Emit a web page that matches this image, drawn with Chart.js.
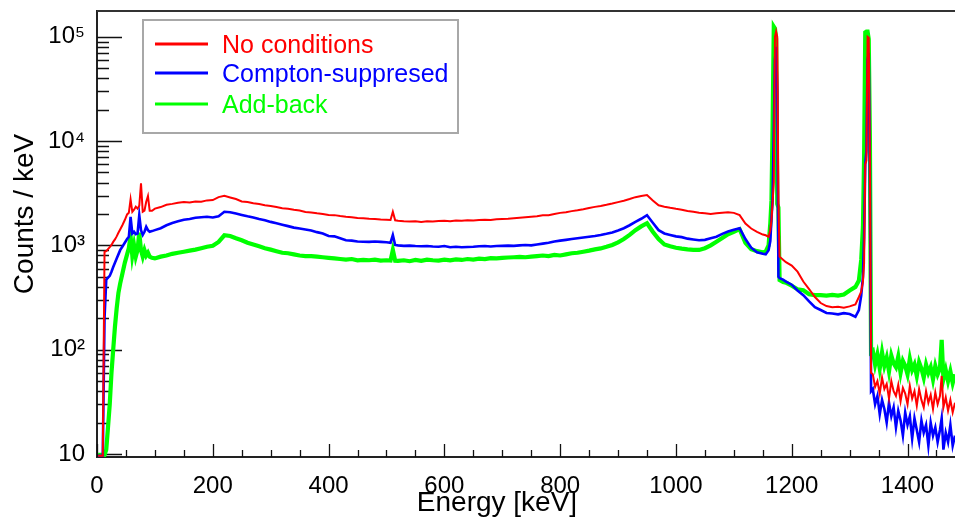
<!DOCTYPE html>
<html>
<head>
<meta charset="utf-8">
<script src="https://cdn.jsdelivr.net/npm/chart.js@4.4.1/dist/chart.umd.min.js"></script>
<style>
  html, body { margin: 0; padding: 0; background: #fff; }
  #wrap { width: 955px; height: 519px; }
</style>
</head>
<body>
<div id="wrap"><canvas id="spectrum"></canvas></div>
<script>
// bin centres [keV] (finer around the lines)
const energy = [
  2, 6, 10, 13, 16, 19, 22, 25, 28, 31, 34, 37, 40, 44, 48, 52, 55, 58, 61, 64, 67, 70, 73, 76, 79, 82, 85, 88, 91, 95, 100,
  110, 120, 130, 140, 150, 160, 170, 180, 190, 200,
  210, 220, 230, 240, 250, 260, 270, 280, 290, 300,
  310, 320, 330, 340, 350, 360, 370, 380, 390, 400,
  410, 420, 430, 440, 450, 460, 470, 480, 490, 500,
  507, 511, 515,
  520, 530, 540, 550, 560, 570, 580, 590, 600, 610,
  620, 630, 640, 650, 660, 670, 680, 690, 700, 710,
  720, 730, 740, 750, 760, 770, 780, 790, 800, 810,
  820, 830, 840, 850, 860, 870, 880, 890, 900, 910,
  920, 930, 940, 950, 960, 970, 980, 990, 1000, 1010,
  1020, 1030, 1040, 1050, 1060, 1070, 1080, 1090, 1100, 1110,
  1120, 1130, 1140, 1150,
  1155, 1160, 1163, 1165, 1167, 1169, 1171, 1173, 1175, 1177, 1179,
  1185, 1190, 1200, 1210, 1220, 1230, 1240, 1250, 1260, 1270, 1280, 1290, 1300, 1310, 1316,
  1320, 1323, 1325, 1327, 1329, 1331, 1333, 1335, 1337,
  1340, 1344, 1348, 1352, 1356, 1360, 1364, 1368, 1372, 1376,
  1380, 1384, 1388, 1392, 1396, 1400, 1404, 1408, 1412, 1416,
  1420, 1424, 1428, 1432, 1436, 1440, 1444, 1448, 1452, 1456,
  1459, 1462, 1466, 1470, 1474, 1478, 1482
];

// counts / keV
const noConditions = [
  9.6, 9.6, 9.6, 870, 880, 920, 960, 1010, 1080, 1140, 1220, 1320, 1420, 1570, 1750, 1980, 2050, 2770, 2100, 2200, 2350, 2250, 2400, 3940, 2100, 2150, 2620, 2970, 2150, 2150, 2250,
  2330, 2450, 2500, 2560, 2600, 2580, 2640, 2620, 2700, 2720,
  2900, 2990, 2880, 2780, 2640, 2600, 2530, 2490, 2430, 2390,
  2330, 2270, 2250, 2200, 2160, 2090, 2070, 2030, 2000, 1960,
  1950, 1910, 1880, 1860, 1830, 1820, 1800, 1790, 1770, 1760,
  1750, 2100, 1740,
  1720, 1700, 1690, 1700, 1680, 1700, 1690, 1710, 1720, 1700,
  1730, 1720, 1740, 1730, 1750, 1760, 1750, 1780, 1790, 1800,
  1820, 1840, 1860, 1880, 1900, 1940, 1950, 2000, 2050, 2080,
  2130, 2170, 2220, 2280, 2340, 2390, 2450, 2520, 2600, 2680,
  2780, 2900, 2980, 3040, 2700, 2420, 2350, 2290, 2240, 2200,
  2140, 2100, 2060, 2030, 2000, 2030, 2060, 2080, 2050, 1950,
  1620, 1450, 1350, 1270,
  1250, 1210, 1400, 1750, 2600, 4000, 100000, 112000, 100000, 2700, 780,
  730, 690, 640, 560, 450, 380, 320, 280, 262, 255, 258, 252, 260, 272, 320,
  360, 450, 680, 6000, 6500, 100000, 98000, 6600, 60,
  58, 44, 50, 38, 54, 42, 47, 34, 50, 40,
  36, 46, 32, 43, 38, 30, 45, 34, 40, 29,
  42, 33, 28, 40, 31, 37, 27, 39, 30, 36,
  56, 28, 35, 26, 33, 25, 31
];

const comptonSuppressed = [
  9.6, 9.6, 9.6, 200, 470, 490, 510, 560, 620, 680, 750, 820, 900, 975, 1060, 1150, 1210, 1880, 1300, 1350, 1280, 1300, 1950, 1400, 1260, 1350, 1510, 1400, 1350, 1370, 1400,
  1460, 1560, 1640, 1700, 1760, 1790, 1840, 1860, 1880, 1850,
  1900, 2100, 2080, 2020, 1960, 1900, 1850, 1790, 1740, 1680,
  1630, 1580, 1530, 1480, 1450, 1420, 1390, 1340, 1300, 1230,
  1220, 1170, 1120, 1110, 1090, 1085, 1080, 1090, 1080, 1070,
  1060, 1255, 1010,
  1000, 990, 995, 985, 980, 985, 975, 970, 985, 960,
  970, 960, 965, 970, 980, 985, 975, 985, 990, 995,
  990, 1000, 1010, 1000, 1020, 1040, 1060, 1090, 1110, 1130,
  1150, 1170, 1190, 1210, 1230, 1255, 1290, 1330, 1390, 1460,
  1560, 1680, 1800, 1950, 1650, 1400, 1300, 1260, 1220, 1200,
  1160, 1140, 1120, 1130, 1170, 1210, 1290, 1360, 1410, 1460,
  1150, 950, 860, 830,
  820, 900, 1100, 1800, 2800, 12600, 60000, 80000, 30000, 500, 485,
  470, 450, 420, 370, 333, 290, 255, 240, 225, 222, 218, 224, 220, 207, 240,
  330, 500, 1200, 6000, 8000, 60000, 70000, 5000, 40,
  42, 30, 36, 24, 33, 27, 20, 31, 23, 28,
  18, 26, 21, 15, 25, 19, 23, 14, 22, 17,
  13, 21, 16, 19, 12, 20, 15, 18, 13, 17,
  22, 11, 16, 13, 19, 12, 15
];

const addBack = [
  9.8, 9.8, 9.8, 9.8, 11, 18, 30, 60, 100, 166, 250, 350, 430, 540, 680, 820, 945, 1230, 800, 1000, 780, 900, 1320, 900, 780, 900, 800, 850, 780, 760, 750,
  780, 800, 830, 850, 870, 890, 910, 940, 970, 990,
  1080, 1250, 1230, 1170, 1120, 1060, 1020, 980, 940, 910,
  880, 850, 840, 820, 800, 790, 790, 780, 770, 760,
  750, 740, 730, 740, 720, 725, 720, 730, 715, 720,
  715, 905, 712,
  710, 720, 705, 725, 710, 730, 720, 715, 730, 720,
  735, 725, 740, 730, 745, 740, 755, 750, 760, 765,
  770, 775, 770, 780, 790, 800, 790, 810, 800, 820,
  840, 850, 870, 890, 915, 935, 970, 1010, 1070, 1150,
  1260, 1400, 1520, 1630, 1350, 1150, 1020, 980, 950, 930,
  915, 905, 905, 940, 1000, 1085, 1180, 1280, 1350, 1430,
  1060, 920, 880, 860,
  870, 1000, 1630, 2700, 15000, 125000, 120000, 95000, 2500, 2300, 465,
  445, 440, 410, 380, 372, 340, 333, 333, 330, 335, 330, 338, 370, 400, 460,
  725, 1510, 7100, 110000, 112000, 112000, 95000, 10700, 95,
  98, 72, 90, 66, 94, 70, 84, 62, 88, 74,
  68, 86, 60, 78, 70, 58, 82, 64, 72, 56,
  76, 66, 54, 72, 60, 68, 52, 70, 58, 66,
  124, 52, 64, 50, 62, 48, 58
];

const xTickValues = [0, 200, 400, 600, 800, 1000, 1200, 1400];
const yTickValues = [10, 100, 1000, 10000, 100000];
const yTickLabels = ['10', '10\u00b2', '10\u00b3', '10\u2074', '10\u2075'];

const seriesNames = ['No conditions', 'Compton-suppresed', 'Add-back'];
const seriesColors = ['#ff0000', '#0000ff', '#00ff00'];
const seriesWidths = [2, 2.6, 4.2];

const FONT = '"Liberation Sans", Arial, Helvetica, sans-serif';

function toPoints(values) {
  return energy.map((e, i) => ({ x: e, y: values[i] }));
}

// ROOT look: inner ticks, top frame line, boxed legend, axis titles
const rootStyle = {
  id: 'rootStyle',
  beforeDatasetsDraw(chart) {
    const { ctx, chartArea: a, scales: { x, y } } = chart;
    ctx.save();
    ctx.strokeStyle = '#111';
    ctx.lineWidth = 1.3;
    ctx.beginPath();
    for (let v = 0; v <= x.max; v += 50) {
      const px = Math.round(x.getPixelForValue(v)) + 0.5;
      ctx.moveTo(px, a.bottom);
      ctx.lineTo(px, a.bottom - (v % 200 === 0 ? 13 : 7));
    }
    for (let d = 1; d <= 5; d++) {
      for (let m = 1; m <= 9; m++) {
        const v = m * Math.pow(10, d);
        if (v < y.min || v > y.max) continue;
        const py = Math.round(y.getPixelForValue(v)) + 0.5;
        ctx.moveTo(a.left, py);
        ctx.lineTo(a.left + (m === 1 ? 25 : 12), py);
      }
    }
    ctx.stroke();
    ctx.restore();
  },
  afterDraw(chart) {
    const { ctx, chartArea: a } = chart;
    ctx.save();

    ctx.strokeStyle = '#333';
    ctx.lineWidth = 2;
    ctx.beginPath();
    ctx.moveTo(a.left, a.top);
    ctx.lineTo(a.right, a.top);
    ctx.stroke();

    // axis titles
    ctx.fillStyle = '#000';
    ctx.font = '28px ' + FONT;
    ctx.textAlign = 'center';
    ctx.textBaseline = 'alphabetic';
    ctx.fillText('Energy [keV]', 497, 511);
    ctx.save();
    ctx.translate(33, 214);
    ctx.rotate(-Math.PI / 2);
    ctx.fillText('Counts / keV', 0, 0);
    ctx.restore();

    // legend box
    ctx.fillStyle = '#fff';
    ctx.fillRect(143, 20, 315, 113);
    ctx.strokeStyle = '#a8a8a8';
    ctx.lineWidth = 2;
    ctx.strokeRect(143, 20, 315, 113);
    const rows = [44, 73, 104];
    ctx.font = '25px ' + FONT;
    ctx.textAlign = 'left';
    seriesNames.forEach((name, i) => {
      ctx.strokeStyle = seriesColors[i];
      ctx.lineWidth = 3;
      ctx.beginPath();
      ctx.moveTo(155, rows[i]);
      ctx.lineTo(208, rows[i]);
      ctx.stroke();
      ctx.fillStyle = seriesColors[i];
      ctx.fillText(name, 222, rows[i] + 8.5);
    });
    ctx.restore();
  }
};

new Chart(document.getElementById('spectrum'), {
  type: 'line',
  data: {
    datasets: seriesNames.map((name, i) => ({
      label: name,
      data: toPoints([noConditions, comptonSuppressed, addBack][i]),
      borderColor: seriesColors[i],
      backgroundColor: seriesColors[i],
      borderWidth: seriesWidths[i],
      borderJoinStyle: 'miter',
      tension: 0,
      pointRadius: 0,
      fill: false
    }))
  },
  options: {
    animation: false,
    responsive: true,
    maintainAspectRatio: false,
    layout: { padding: { top: 11, right: 0, left: 0, bottom: 0 } },
    plugins: {
      legend: { display: false },
      tooltip: { enabled: false }
    },
    scales: {
      x: {
        type: 'linear',
        min: 0,
        max: 1482,
        afterBuildTicks: (s) => { s.ticks = xTickValues.map(v => ({ value: v })); },
        afterFit: (s) => { s.height = 62; },
        grid: { display: false, drawTicks: false },
        border: { display: true, color: '#222', width: 2 },
        ticks: {
          color: '#000',
          font: { family: FONT, size: 24 },
          padding: 15,
          maxRotation: 0,
          autoSkip: false,
          callback: (v) => String(v)
        }
      },
      y: {
        type: 'logarithmic',
        min: 9.36,
        max: 176600,
        afterBuildTicks: (s) => { s.ticks = yTickValues.map(v => ({ value: v })); },
        afterFit: (s) => { s.width = 97; s.paddingTop = 0; s.paddingBottom = 0; },
        grid: { display: false, drawTicks: false },
        border: { display: true, color: '#222', width: 2 },
        ticks: {
          color: '#000',
          font: { family: FONT, size: 24 },
          padding: 12,
          autoSkip: false,
          callback: (v) => yTickLabels[yTickValues.indexOf(v)]
        }
      }
    }
  },
  plugins: [rootStyle]
});
</script>
</body>
</html>
